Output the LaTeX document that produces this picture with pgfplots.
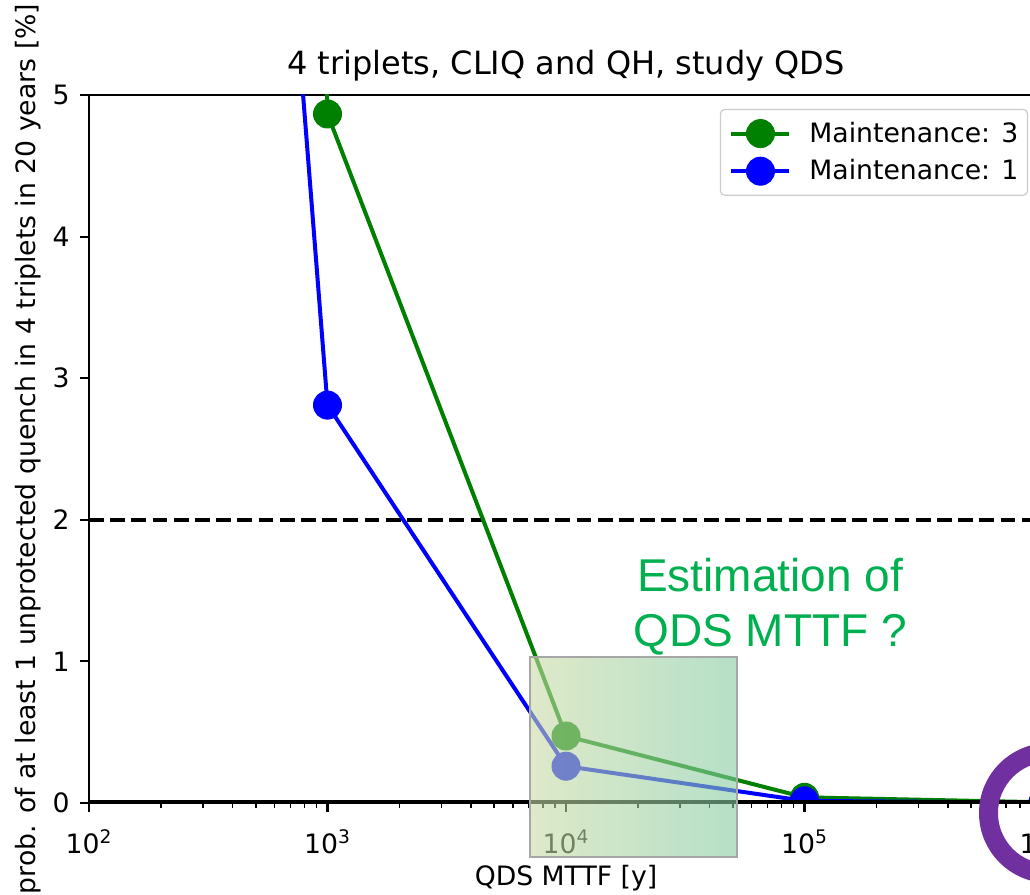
\documentclass[border=0pt]{standalone}
\usepackage{fontspec}
\setmainfont{DejaVu Sans}
\newfontfamily\arialfont{Liberation Sans}
\usepackage{pgfplots}
\pgfplotsset{compat=1.18}
\definecolor{mplgreen}{RGB}{0,128,0}
\definecolor{mplblue}{RGB}{0,0,255}
\definecolor{estgreen}{RGB}{0,176,80}
\definecolor{ringpurple}{RGB}{112,48,160}
\definecolor{boxleft}{RGB}{200,218,165}
\definecolor{boxright}{RGB}{132,203,162}
\definecolor{legframe}{RGB}{204,204,204}
\definecolor{boxedge}{RGB}{166,166,166}
\newcommand{\mfont}{\fontsize{13.33pt}{16pt}\selectfont}
\begin{document}
\begin{tikzpicture}
\useasboundingbox (-44.5pt,-46pt) rectangle (470.5pt,401.5pt);
\clip (-44.5pt,-46pt) rectangle (470.5pt,401.5pt);
\begin{axis}[
  at={(0pt,0pt)}, anchor=south west,
  scale only axis, width=477pt, height=354pt,
  xmode=log, xmin=100, xmax=1e6, ymin=0, ymax=5,
  xtick={100,1000,10000,100000,1000000},
  xticklabels={10\textsuperscript{2},10\textsuperscript{3},10\textsuperscript{4},10\textsuperscript{5},10\textsuperscript{6}},
  ytick={0,1,2,3,4,5},
  tick align=outside, xtick pos=bottom, ytick pos=left,
  major tick length=4.65pt, minor tick length=2.67pt,
  every major tick/.append style={black, line width=1.05pt},
  every minor tick/.append style={black, line width=0.8pt},
  axis line style={line width=1.05pt},
  tick label style={font=\mfont},
  xticklabel style={anchor=base, inner sep=0pt, yshift=-20.6pt},
  yticklabel style={anchor=east, inner sep=0pt, xshift=-4.85pt},
  /pgf/number format/assume math mode=true,
  clip marker paths=true,
  title={4 triplets, CLIQ and QH, study QDS},
  every axis title/.style={at={(axis description cs:0.5,1.02825)}, anchor=base, font=\fontsize{16pt}{19pt}\selectfont},
  xlabel={QDS MTTF [y]},
  every axis x label/.style={at={(axis description cs:0.5,-0.1172)}, anchor=base, font=\mfont},
  ylabel={prob. of at least 1 unprotected quench in 4 triplets in 20 years [\%]},
  every axis y label/.style={at={(axis description cs:-0.0566,0.5)}, rotate=90, anchor=base, font=\mfont},
  legend style={at={(1,1)}, anchor=north east, xshift=-7.5pt, yshift=-7pt,
    draw=legframe, line width=0.6pt, rounded corners=2pt, fill=white,
    font=\mfont, inner xsep=4.5pt, inner ysep=5pt, row sep=4.8pt, column sep=9pt,
    nodes={inner sep=0pt, anchor=west}},
  legend cell align=left,
  legend image code/.code={\draw[mark repeat=2,mark phase=2,#1] plot coordinates {(0pt,0pt)(14.5pt,0pt)(29pt,0pt)};},
]
\addplot[black, line width=2pt, dash pattern=on 7.4pt off 3.2pt, forget plot] coordinates {(100,2) (1000000,2)};
\addplot[mplgreen, line width=2pt, mark=*, mark size=7pt, mark options={solid, line width=0.5pt, fill=mplgreen, draw=mplgreen}]
  coordinates {(100,100) (1000,4.866) (10000,0.473) (100000,0.04) (1000000,0.005)};
\addlegendentry{Maintenance: 3}
\addplot[mplblue, line width=2pt, mark=*, mark size=7pt, mark options={solid, line width=0.5pt, fill=mplblue, draw=mplblue}]
  coordinates {(100,24.2) (1000,2.81) (10000,0.26) (100000,0.015) (1000000,0.002)};
\addlegendentry{Maintenance: 1}
\addplot[black, line width=2.5pt, forget plot] coordinates {(100,0) (1000000,0)};
\end{axis}
\shade[left color=boxleft, right color=boxright, fill opacity=0.6] (220.5pt,-27pt) rectangle (324pt,73pt);
\draw[boxedge, line width=1pt] (220.5pt,-27pt) rectangle (324pt,73pt);
\node[font=\arialfont\fontsize{23pt}{27.5pt}\selectfont, text=estgreen, anchor=base, inner sep=0pt] at (340.5pt,105.5pt) {Estimation of};
\node[font=\arialfont\fontsize{23pt}{27.5pt}\selectfont, text=estgreen, anchor=base, inner sep=0pt] at (340.5pt,78pt) {QDS MTTF ?};
\draw[ringpurple, line width=9.5pt] (480pt,-5pt) circle (30.25pt);
\end{tikzpicture}
\end{document}
